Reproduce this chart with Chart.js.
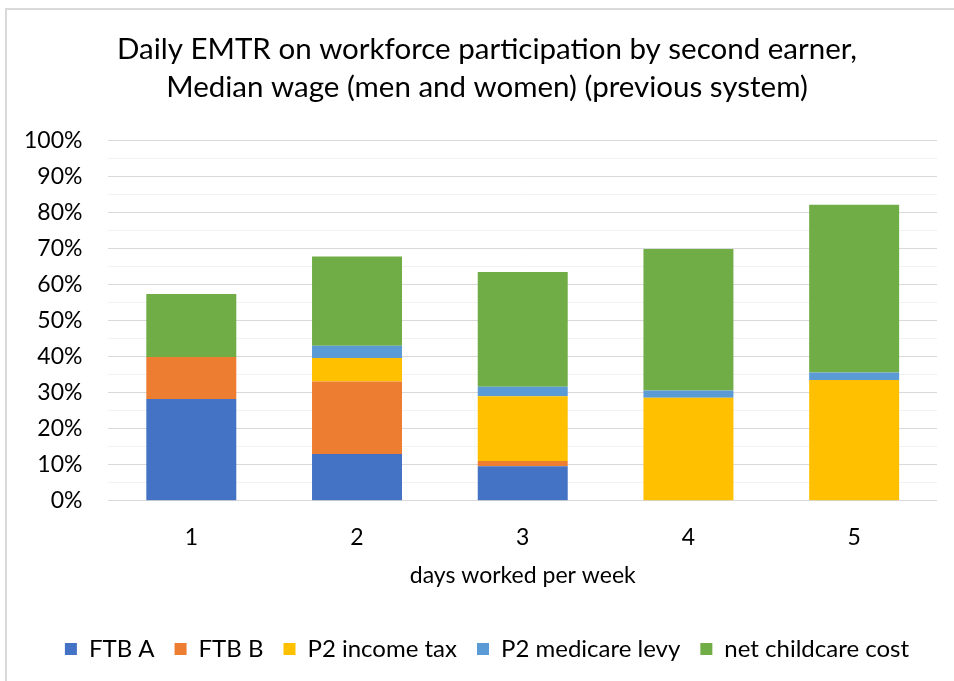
<!DOCTYPE html>
<html>
<head>
<meta charset="utf-8">
<script src="https://cdn.jsdelivr.net/npm/chart.js@4/dist/chart.umd.min.js"></script>
<style>
  html, body { margin: 0; padding: 0; background: #fff; overflow: hidden; width: 954px; height: 681px; }
  #frame { position: absolute; left: 5px; top: 8px; width: 1000px; height: 720px; border: 2px solid #d9d9d9; box-sizing: border-box; }
  #wrap { position: absolute; left: 0; top: 0; width: 976px; height: 681px; }
</style>
</head>
<body>
<div id="frame"></div>
<div id="wrap"><canvas id="c" width="976" height="681"></canvas></div>
<script>
const categories = ['1', '2', '3', '4', '5'];
const ftbA = [28.2, 13.0, 9.6, 0, 0];
const ftbB = [11.7, 20.1, 1.4, 0, 0];
const incomeTax = [0, 6.5, 18.0, 28.6, 33.5];
const medicareLevy = [0, 3.4, 2.6, 2.0, 2.1];
const childcare = [17.4, 24.7, 31.8, 39.2, 46.5];
const seriesNames = ['FTB A', 'FTB B', 'P2 income tax', 'P2 medicare levy', 'net childcare cost'];
const titleLines = ['Daily EMTR on workforce participation by second earner,', 'Median wage (men and women) (previous system)'];
const xTitle = 'days worked per week';

const colors = ['#4472C4', '#ED7D31', '#FFC000', '#5B9BD5', '#70AD47'];
const seriesData = [ftbA, ftbB, incomeTax, medicareLevy, childcare];
const FONT = 'Lato, "Open Sans", sans-serif';

new Chart(document.getElementById('c'), {
  type: 'bar',
  data: {
    labels: categories,
    datasets: seriesData.map((d, i) => ({
      label: seriesNames[i],
      data: d,
      backgroundColor: colors[i],
      borderWidth: 0,
      categoryPercentage: 1,
      barPercentage: 0.543
    }))
  },
  options: {
    responsive: false,
    animation: false,
    devicePixelRatio: 1,
    layout: { padding: { left: -2, right: 0, top: 30, bottom: 10 } },
    plugins: {
      title: {
        display: true,
        text: titleLines,
        color: '#000',
        font: { family: FONT, size: 29.5, weight: 'normal', lineHeight: 1.29 },
        padding: { top: 0, bottom: 34 }
      },
      legend: {
        position: 'bottom',
        labels: {
          color: '#000',
          font: { family: FONT, size: 24 },
          boxWidth: 12,
          boxHeight: 12,
          padding: 20
        }
      },
      tooltip: { enabled: false }
    },
    scales: {
      x: {
        stacked: true,
        grid: { display: false },
        border: { display: false },
        ticks: { color: '#000', font: { family: FONT, size: 23 }, padding: 15 },
        title: { display: true, text: xTitle, color: '#000', font: { family: FONT, size: 23 }, padding: { top: -5, bottom: 28 } }
      },
      y: {
        stacked: true,
        min: 0,
        max: 100,
        ticks: {
          stepSize: 5,
          color: '#000',
          font: { family: FONT, size: 23 },
          padding: 26,
          autoSkip: false,
          callback: v => (v % 10 === 0 ? v + '%' : '')
        },
        grid: {
          drawTicks: false,
          color: ctx => (ctx.tick && ctx.tick.value % 10 === 0 ? '#d9d9d9' : '#f2f2f2'),
          lineWidth: 1
        },
        border: { display: false }
      },
      ySpacer: {
        position: 'right',
        display: true,
        min: 0,
        max: 100,
        grid: { display: false },
        border: { display: false },
        ticks: { display: false },
        afterFit: axis => { axis.width = 39; }
      }
    }
  }
});
</script>
</body>
</html>
